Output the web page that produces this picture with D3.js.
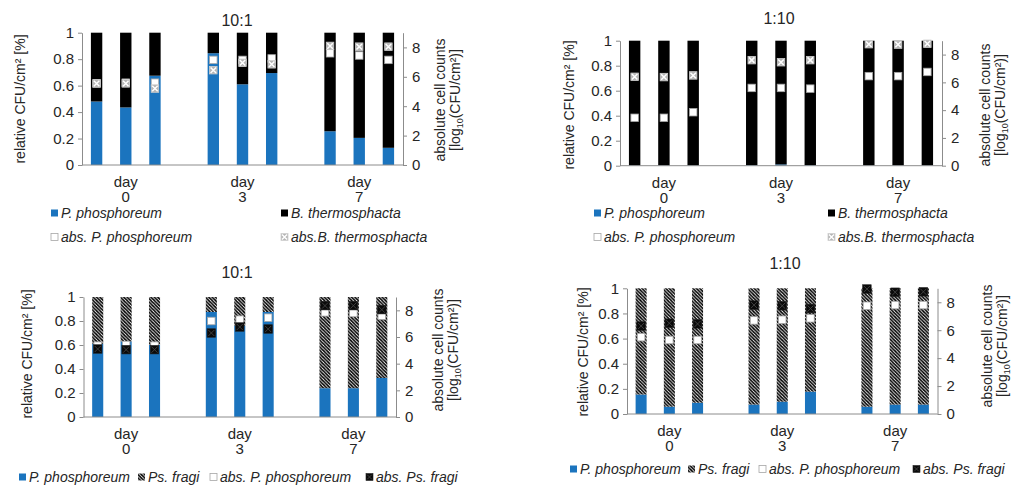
<!DOCTYPE html>
<html>
<head>
<meta charset="utf-8">
<script src="https://cdn.jsdelivr.net/npm/d3@7"></script>
<style>
  body { margin: 0; background: #fff; }
  svg { font-family: "Liberation Sans", Arial, sans-serif; }
</style>
</head>
<body>
<svg id="chart" width="1016" height="493"></svg>
<script>
// Category slots along each x axis: three replicates per day, one empty slot between days
const slots = ["0a", "0b", "0c", "gap1", "3a", "3b", "3c", "gap2", "7a", "7b", "7c"];
const barSlots = ["0a", "0b", "0c", "3a", "3b", "3c", "7a", "7b", "7c"];
const daySlots = ["0b", "3b", "7b"];
const dayNames = ["0", "3", "7"];
const leftTicks = [0, 0.2, 0.4, 0.6, 0.8, 1];
const rightTicks = [0, 2, 4, 6, 8];

// 10:1 P. phosphoreum : B. thermosphacta
const relPhosBth101 = [0.48, 0.435, 0.675, 0.845, 0.61, 0.695, 0.255, 0.205, 0.13];
const absPhosBth101 = [5.55, 5.6, 5.6, 7.15, 7.15, 7.25, 7.6, 7.45, 7.15];
const absBth101 = [5.55, 5.55, 5.2, 6.45, 6.95, 6.85, 8.1, 8.05, 8.05];

// 1:10 P. phosphoreum : B. thermosphacta
const relPhosBth110 = [0.002, 0.002, 0.002, 0.004, 0.01, 0.004, 0.002, 0.002, 0.002];
const absPhosBth110 = [3.45, 3.45, 3.85, 5.6, 5.6, 5.55, 6.45, 6.45, 6.75];
const absBth110 = [6.4, 6.38, 6.5, 7.6, 7.45, 7.6, 8.75, 8.72, 8.78];

// 10:1 P. phosphoreum : Ps. fragi
const relPhosPsf101 = [0.61, 0.63, 0.6, 0.875, 0.76, 0.875, 0.24, 0.24, 0.325];
const absPhosPsf101 = [5.35, 5.4, 5.35, 7.2, 7.3, 7.45, 7.85, 7.8, 7.6];
const absPsf101 = [5.1, 5.05, 5.05, 6.3, 6.75, 6.6, 8.35, 8.35, 8.05];

// 1:10 P. phosphoreum : Ps. fragi
const relPhosPsf110 = [0.155, 0.058, 0.09, 0.075, 0.098, 0.178, 0.058, 0.075, 0.075];
const absPhosPsf110 = [5.5, 5.3, 5.3, 6.7, 6.75, 6.85, 7.75, 7.8, 7.8];
const absPsf110 = [6.3, 6.5, 6.45, 7.8, 7.75, 7.55, 8.95, 8.72, 8.75];

const BLUE = "#1b74be";
const AXIS = "#8c8c8c";
const TEXT = "#262626";

const svg = d3.select("#chart");

// diagonal hatch used for Ps. fragi
const defs = svg.append("defs");
const pat = defs.append("pattern")
  .attr("id", "hatch").attr("patternUnits", "userSpaceOnUse")
  .attr("width", 3.4).attr("height", 3.4);
pat.append("rect").attr("width", 3.4).attr("height", 3.4).attr("fill", "#fff");
pat.append("path")
  .attr("d", "M-1,-1 L4.4,4.4 M-1,2.4 L1,4.4 M2.4,-1 L4.4,1")
  .attr("stroke", "#000").attr("stroke-width", 1.65);

const panels = [
  { title: "10:1", rel: relPhosBth101, absA: absPhosBth101, absB: absBth101, partner: "bth",
    x0: 82, x1: 403, yTop: 32.7, yBot: 165, titleX: 237, titleY: 20,
    leftTitleX: 20, leftTitleY: 99, rightTitleX: 440, rightTitleY: 100,
    legend: [
      { kind: "blue", x: 51, y: 213, label: "P. phosphoreum" },
      { kind: "black", x: 281, y: 213, label: "B. thermosphacta" },
      { kind: "white", x: 51, y: 237, label: "abs. P. phosphoreum" },
      { kind: "xbox", x: 281, y: 237, label: "abs.B. thermosphacta" }
    ] },
  { title: "1:10", rel: relPhosBth110, absA: absPhosBth110, absB: absBth110, partner: "bth",
    x0: 620, x1: 942, yTop: 40.7, yBot: 165.7, titleX: 779, titleY: 18,
    leftTitleX: 569, leftTitleY: 105, rightTitleX: 985, rightTitleY: 105,
    legend: [
      { kind: "blue", x: 594, y: 213, label: "P. phosphoreum" },
      { kind: "black", x: 828, y: 213, label: "B. thermosphacta" },
      { kind: "white", x: 594, y: 237, label: "abs. P. phosphoreum" },
      { kind: "xbox", x: 828, y: 237, label: "abs.B. thermosphacta" }
    ] },
  { title: "10:1", rel: relPhosPsf101, absA: absPhosPsf101, absB: absPsf101, partner: "psf",
    x0: 83.5, x1: 396, yTop: 297, yBot: 417, titleX: 237, titleY: 272,
    leftTitleX: 27, leftTitleY: 354, rightTitleX: 438, rightTitleY: 350,
    legend: [
      { kind: "blue", x: 19, y: 477, label: "P. phosphoreum" },
      { kind: "hatch", x: 138, y: 477, label: "Ps. fragi" },
      { kind: "white", x: 210, y: 477, label: "abs. P. phosphoreum" },
      { kind: "blackx", x: 366, y: 477, label: "abs. Ps. fragi" }
    ] },
  { title: "1:10", rel: relPhosPsf110, absA: absPhosPsf110, absB: absPsf110, partner: "psf",
    x0: 627, x1: 937.5, yTop: 288.3, yBot: 414, titleX: 785, titleY: 263,
    leftTitleX: 583, leftTitleY: 352, rightTitleX: 987, rightTitleY: 346,
    legend: [
      { kind: "blue", x: 570, y: 469, label: "P. phosphoreum" },
      { kind: "hatch", x: 688, y: 469, label: "Ps. fragi" },
      { kind: "white", x: 759, y: 469, label: "abs. P. phosphoreum" },
      { kind: "blackx", x: 913, y: 469, label: "abs. Ps. fragi" }
    ] }
];

// marker drawing helpers (centered on cx, cy)
function marker(g, kind, cx, cy, s) {
  const h = s / 2;
  if (kind === "white") {
    g.append("rect").attr("x", cx - h).attr("y", cy - h).attr("width", s).attr("height", s)
      .attr("fill", "#fff").attr("stroke", "#a6a6a6").attr("stroke-width", 0.8);
  } else if (kind === "xbox") {
    g.append("rect").attr("x", cx - h).attr("y", cy - h).attr("width", s).attr("height", s)
      .attr("fill", "#b4b4b4").attr("stroke", "#d0d0d0").attr("stroke-width", 0.8);
    g.append("path")
      .attr("d", `M${cx - h + 1},${cy - h + 1}L${cx + h - 1},${cy + h - 1}M${cx + h - 1},${cy - h + 1}L${cx - h + 1},${cy + h - 1}`)
      .attr("stroke", "#fff").attr("stroke-width", 1.5);
  } else if (kind === "blackx") {
    g.append("rect").attr("x", cx - h).attr("y", cy - h).attr("width", s).attr("height", s)
      .attr("fill", "#0a0a0a").attr("stroke", "#202020").attr("stroke-width", 0.6);
    g.append("path")
      .attr("d", `M${cx - h + 1.2},${cy - h + 1.2}L${cx + h - 1.2},${cy + h - 1.2}M${cx + h - 1.2},${cy - h + 1.2}L${cx - h + 1.2},${cy + h - 1.2}`)
      .attr("stroke", "#4a4a4a").attr("stroke-width", 0.8);
  }
}

function drawPanel(p) {
  const g = svg.append("g");
  const x = d3.scaleBand().domain(slots).range([p.x0, p.x1]).paddingInner(0.61).paddingOuter(0.305);
  const y = d3.scaleLinear().domain([0, 1]).range([p.yBot, p.yTop]);
  const y2 = d3.scaleLinear().domain([0, 9]).range([p.yBot, p.yTop]);

  // title
  g.append("text").attr("x", p.titleX).attr("y", p.titleY).attr("dy", "0.35em")
    .attr("text-anchor", "middle").attr("font-size", 16).attr("fill", TEXT).text(p.title);

  // stacked bars: P. phosphoreum at the bottom, partner species on top
  const rows = barSlots.map((s, i) => ({ slot: s, phos: p.rel[i], other: 1 - p.rel[i], absA: p.absA[i], absB: p.absB[i] }));
  const stack = d3.stack().keys(["phos", "other"])(rows);
  const fills = [BLUE, p.partner === "bth" ? "#000" : "url(#hatch)"];
  stack.forEach((layer, li) => {
    g.append("g").selectAll("rect").data(layer).join("rect")
      .attr("x", d => x(d.data.slot))
      .attr("width", x.bandwidth())
      .attr("y", d => y(d[1]))
      .attr("height", d => Math.max(0, y(d[0]) - y(d[1])))
      .attr("fill", fills[li]);
  });

  // axes
  const ax = g.append("g").attr("transform", `translate(${p.x0},0)`)
    .call(d3.axisLeft(y).tickValues(leftTicks).tickSize(4).tickSizeOuter(0).tickPadding(4).tickFormat(d3.format("~g")));
  const ax2 = g.append("g").attr("transform", `translate(${p.x1},0)`)
    .call(d3.axisRight(y2).tickValues(rightTicks).tickSize(4).tickSizeOuter(0).tickPadding(5));
  [ax, ax2].forEach(a => {
    a.select(".domain").attr("stroke", AXIS);
    a.selectAll(".tick line").attr("stroke", AXIS);
    a.selectAll(".tick text").attr("font-size", 15).attr("fill", TEXT)
      .attr("font-family", '"Liberation Sans", Arial, sans-serif');
  });
  g.append("line").attr("x1", p.x0).attr("x2", p.x1).attr("y1", p.yBot).attr("y2", p.yBot)
    .attr("stroke", AXIS).attr("stroke-width", 1);

  // absolute counts (right axis)
  const mk = g.append("g");
  rows.forEach(r => {
    const cx = x(r.slot) + x.bandwidth() / 2;
    marker(mk, "white", cx, y2(r.absA), 7.5);
  });
  rows.forEach(r => {
    const cx = x(r.slot) + x.bandwidth() / 2;
    marker(mk, p.partner === "bth" ? "xbox" : "blackx", cx, y2(r.absB), p.partner === "bth" ? 7.5 : 8.5);
  });

  // day labels
  daySlots.forEach((s, i) => {
    const cx = x(s) + x.bandwidth() / 2;
    g.append("text").attr("x", cx).attr("y", p.yBot + 22).attr("text-anchor", "middle")
      .attr("font-size", 15).attr("fill", TEXT).text("day");
    g.append("text").attr("x", cx).attr("y", p.yBot + 37).attr("text-anchor", "middle")
      .attr("font-size", 15).attr("fill", TEXT).text(dayNames[i]);
  });

  // axis titles
  g.append("text").attr("transform", `translate(${p.leftTitleX},${p.leftTitleY}) rotate(-90)`)
    .attr("text-anchor", "middle").attr("dy", "0.35em").attr("font-size", 14).attr("fill", TEXT)
    .text("relative CFU/cm² [%]");
  const rt = g.append("text").attr("transform", `translate(${p.rightTitleX},${p.rightTitleY}) rotate(-90)`)
    .attr("text-anchor", "middle").attr("font-size", 14).attr("fill", TEXT);
  rt.append("tspan").attr("x", 0).attr("dy", "0.35em").text("absolute cell counts");
  const l2 = rt.append("tspan").attr("x", 0).attr("dy", "1.05em");
  l2.append("tspan").text("[log");
  l2.append("tspan").attr("font-size", 9).attr("dy", 3).text("10");
  l2.append("tspan").attr("dy", -3).text("(CFU/cm²)]");

  // legend
  p.legend.forEach(it => {
    const lg = g.append("g");
    const s = 7, cx = it.x + s / 2, cy = it.y;
    if (it.kind === "blue" || it.kind === "black") {
      lg.append("rect").attr("x", it.x).attr("y", cy - s / 2).attr("width", s).attr("height", s)
        .attr("fill", it.kind === "blue" ? BLUE : "#000");
    } else if (it.kind === "hatch") {
      lg.append("rect").attr("x", it.x).attr("y", cy - s / 2).attr("width", s).attr("height", s)
        .attr("fill", "url(#hatch)");
    } else {
      marker(lg, it.kind, cx, cy, s);
    }
    lg.append("text").attr("x", it.x + s + 3).attr("y", cy).attr("dy", "0.35em")
      .attr("font-size", 14).attr("font-style", "italic").attr("fill", TEXT).text(it.label);
  });
}

panels.forEach(drawPanel);
</script>
</body>
</html>
